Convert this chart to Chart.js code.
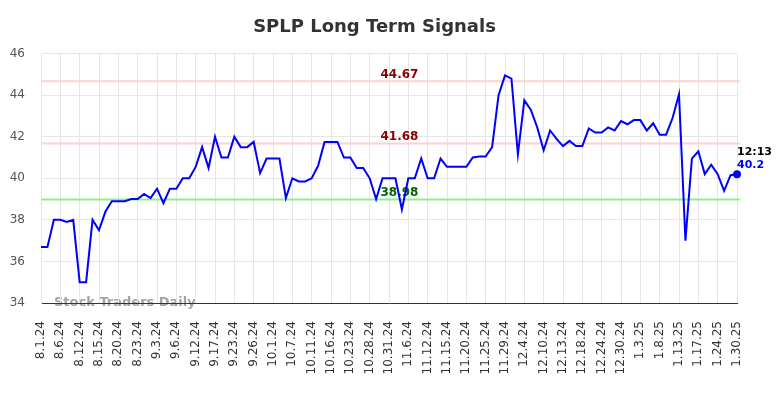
<!DOCTYPE html>
<html><head><meta charset="utf-8">
<script src="https://cdn.jsdelivr.net/npm/chart.js@4.4.0/dist/chart.umd.min.js"></script>
<style>html,body{margin:0;padding:0;background:#fff}#wrap{width:784px;height:398px}</style>
</head><body><div id="wrap"><canvas id="c" width="784" height="398"></canvas></div>
<script>
const chartTitle = 'SPLP Long Term Signals';
const dates = ['8.1.24','8.2.24','8.5.24','8.6.24','8.7.24','8.9.24','8.12.24','8.13.24','8.14.24','8.15.24','8.16.24','8.19.24','8.20.24','8.21.24','8.22.24','8.23.24','8.27.24','8.29.24','9.3.24','9.4.24','9.5.24','9.6.24','9.9.24','9.10.24','9.12.24','9.13.24','9.16.24','9.17.24','9.18.24','9.20.24','9.23.24','9.24.24','9.25.24','9.26.24','9.27.24','9.30.24','10.1.24','10.2.24','10.4.24','10.7.24','10.9.24','10.10.24','10.11.24','10.14.24','10.15.24','10.16.24','10.18.24','10.21.24','10.23.24','10.24.24','10.25.24','10.28.24','10.29.24','10.30.24','10.31.24','11.1.24','11.4.24','11.6.24','11.7.24','11.8.24','11.12.24','11.13.24','11.14.24','11.15.24','11.18.24','11.19.24','11.20.24','11.21.24','11.22.24','11.25.24','11.26.24','11.27.24','11.29.24','12.2.24','12.3.24','12.4.24','12.5.24','12.9.24','12.10.24','12.11.24','12.12.24','12.13.24','12.16.24','12.17.24','12.18.24','12.19.24','12.20.24','12.24.24','12.26.24','12.27.24','12.30.24','12.31.24','1.2.25','1.3.25','1.6.25','1.7.25','1.8.25','1.9.25','1.10.25','1.13.25','1.14.25','1.16.25','1.17.25','1.21.25','1.22.25','1.24.25','1.27.25','1.29.25','1.30.25'];
const prices = [36.7,36.7,38.0,38.0,37.9,38.0,35.0,35.0,38.0,37.5,
  38.4,38.9,38.9,38.9,39.0,39.0,39.25,39.05,39.5,38.8,
  39.5,39.5,40.0,40.0,40.55,41.5,40.5,42.0,41.0,41.0,
  42.0,41.5,41.5,41.75,40.25,40.95,40.95,40.95,39.05,40.0,
  39.85,39.85,40.0,40.6,41.75,41.75,41.75,41.0,41.0,40.5,
  40.5,40.0,39.0,40.0,40.0,40.0,38.5,40.0,40.0,40.95,
  40.0,40.0,40.95,40.55,40.55,40.55,40.55,41.0,41.05,41.05,
  41.5,44.0,44.95,44.8,41.15,43.75,43.3,42.45,41.35,42.3,
  41.9,41.55,41.8,41.55,41.55,42.4,42.2,42.2,42.45,42.3,
  42.75,42.6,42.8,42.8,42.3,42.65,42.1,42.1,42.9,44.05,
  37.0,40.95,41.3,40.2,40.65,40.2,39.4,40.15,40.2];
const levelValues = [44.67, 41.68, 38.98];
const levelLabels = ['44.67', '41.68', '38.98'];
const levelLineColors = ['#ffd0d0', '#ffd0d0', '#90ee90'];
const levelTextColors = ['#8b0000', '#8b0000', '#006400'];
const yMin = 34, yMax = 46, yStep = 2;
const lastTime = '12:13';
const lastValueLabel = '40.2';
const watermark = 'Stock Traders Daily';

const FONT = 'DejaVu Sans';

const levelsPlugin = {
  id: 'levels',
  beforeDatasetsDraw(chart) {
    const {ctx, chartArea, scales} = chart;
    ctx.save();
    levelValues.forEach((v, i) => {
      const y = scales.y.getPixelForValue(v);
      ctx.strokeStyle = levelLineColors[i];
      ctx.lineWidth = 2;
      ctx.beginPath();
      ctx.moveTo(chartArea.left, y);
      ctx.lineTo(chartArea.right + 3, y);
      ctx.stroke();
      ctx.fillStyle = levelTextColors[i];
      ctx.font = 'bold 12px ' + FONT;
      ctx.textAlign = 'center';
      ctx.textBaseline = 'alphabetic';
      const x = chartArea.left + (chartArea.right - chartArea.left) * 0.515;
      ctx.fillText(levelLabels[i], x, y - 3);
    });
    ctx.restore();
  },
  afterDatasetsDraw(chart) {
    const {ctx} = chart;
    const meta = chart.getDatasetMeta(0);
    const pt = meta.data[meta.data.length - 1];
    ctx.save();
    ctx.font = 'bold 11px ' + FONT;
    ctx.textAlign = 'left';
    ctx.textBaseline = 'alphabetic';
    ctx.fillStyle = '#000';
    ctx.fillText(lastTime, pt.x, pt.y - 19);
    ctx.fillStyle = '#0000ff';
    ctx.fillText(lastValueLabel, pt.x, pt.y - 6);
    ctx.restore();
  },
  beforeDraw(chart) {
    const {ctx, chartArea} = chart;
    ctx.save();
    ctx.font = 'bold 13px ' + FONT;
    ctx.fillStyle = 'rgba(140,140,140,0.8)';
    ctx.textAlign = 'left';
    ctx.textBaseline = 'alphabetic';
    ctx.fillText(watermark, chartArea.left + 13, chartArea.bottom + 2.5);
    ctx.restore();
  }
};

new Chart(document.getElementById('c'), {
  type: 'line',
  data: {
    labels: dates,
    datasets: [{
      data: prices,
      borderColor: '#0000ff',
      borderWidth: 2,
      tension: 0,
      fill: false,
      pointRadius: c => c.dataIndex === prices.length - 1 ? 4 : 0,
      pointBackgroundColor: '#0000ff',
      pointBorderWidth: 0
    }]
  },
  options: {
    responsive: false,
    animation: false,
    devicePixelRatio: 1,
    layout: {padding: {left: 0, right: 35, top: 0, bottom: 0}},
    plugins: {
      legend: {display: false},
      tooltip: {enabled: false},
      title: {
        display: true, text: chartTitle, color: '#333',
        font: {family: FONT, size: 18, weight: 'bold'},
        padding: {top: 17, bottom: 15}
      }
    },
    scales: {
      x: {
        type: 'category',
        offset: false,
        grid: {color: c => (c.index % 3 === 0 ? '#e6e6e6' : 'rgba(0,0,0,0)'), drawTicks: false},
        border: {color: '#333', width: 1},
        ticks: {
          autoSkip: false, maxRotation: 90, minRotation: 90, padding: 18,
          color: '#333', font: {family: FONT, size: 12},
          callback: (v, i) => (i % 3 === 0 ? dates[i] : '')
        },
        afterFit: s => { s.height = 95; }
      },
      y: {
        min: yMin, max: yMax,
        ticks: {stepSize: yStep, color: '#555', font: {family: FONT, size: 12}, padding: 16},
        grid: {color: '#e6e6e6', drawTicks: false},
        border: {color: '#e6e6e6'},
        afterFit: s => { s.width = 41; }
      },
      y2: {
        position: 'right', display: true,
        grid: {display: false}, ticks: {display: false}, border: {display: false},
        afterFit: s => { s.width = 12; }
      }
    }
  },
  plugins: [levelsPlugin]
});
</script></body></html>
